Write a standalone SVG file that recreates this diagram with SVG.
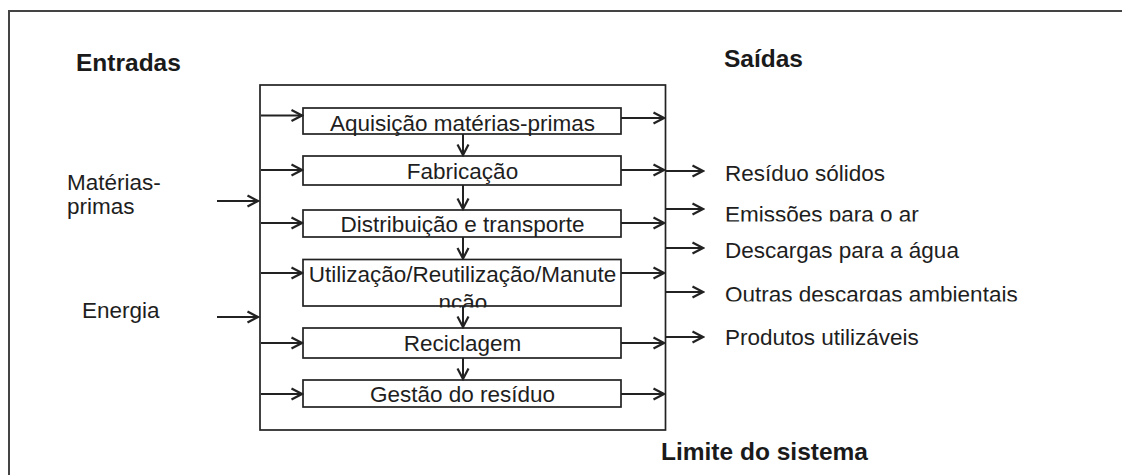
<svg xmlns="http://www.w3.org/2000/svg" width="1122" height="475" viewBox="0 0 1122 475">
<style>
.t{font-family:"Liberation Sans",Arial,sans-serif;font-size:22.5px;fill:#1e1e1e}
.b{font-family:"Liberation Sans",Arial,sans-serif;font-size:24.5px;font-weight:bold;fill:#1a1a1a}
.m{text-anchor:middle}
.box{fill:#fff;stroke:#222;stroke-width:1.7}
.ar{stroke:#222;stroke-width:2;fill:none;marker-end:url(#ah)}
</style>
<defs>
<marker id="ah" markerUnits="userSpaceOnUse" viewBox="0 0 14 14" refX="12.5" refY="7" markerWidth="14" markerHeight="14" orient="auto">
<path d="M2,1.5 L12.5,7 L2,12.5" fill="none" stroke="#222" stroke-width="2.2"/>
</marker>
<clipPath id="c4"><rect x="300" y="250" width="330" height="57.5"/></clipPath>
<clipPath id="cEm"><rect x="700" y="190" width="400" height="31.5"/></clipPath>
<clipPath id="cOu"><rect x="700" y="270" width="400" height="31.5"/></clipPath>
</defs>
<rect width="1122" height="475" fill="#fff"/>
<g id="frame">
<path d="M9,475 V11 H1122" fill="none" stroke="#444" stroke-width="2"/>
</g>
<g id="boundary">
<rect x="260" y="85" width="405.5" height="345" fill="none" stroke="#222" stroke-width="1.7"/>
</g>
<g id="headings">
<text class="b" x="76" y="71">Entradas</text>
<text class="b" x="724" y="67">Saídas</text>
<text class="b" x="661" y="460">Limite do sistema</text>
</g>
<g id="input-materias">
<text class="t" x="67" y="190">Matérias-</text>
<text class="t" x="67" y="214">primas</text>
</g>
<g id="input-energia">
<text class="t" x="82" y="318">Energia</text>
</g>
<g id="n1"><rect class="box" x="303" y="108" width="318" height="26"/><text class="t m" x="462.5" y="130.5">Aquisição matérias-primas</text></g>
<g id="n2"><rect class="box" x="303" y="156" width="318" height="29"/><text class="t m" x="462.5" y="179">Fabricação</text></g>
<g id="n3"><rect class="box" x="303" y="210" width="318" height="27"/><text class="t m" x="462.5" y="232">Distribuição e transporte</text></g>
<g id="n4"><rect class="box" x="303" y="259.5" width="318" height="46.5"/><g clip-path="url(#c4)"><text class="t m" x="462.5" y="282">Utilização/Reutilização/Manute</text><text class="t m" x="463" y="309.5">nção</text></g></g>
<g id="n5"><rect class="box" x="303" y="328" width="318" height="30"/><text class="t m" x="462.5" y="351">Reciclagem</text></g>
<g id="n6"><rect class="box" x="303" y="380" width="318" height="27"/><text class="t m" x="462.5" y="402">Gestão do resíduo</text></g>
<g id="outputs">
<text class="t" x="725" y="181">Resíduo sólidos</text>
<text class="t" x="725" y="222" clip-path="url(#cEm)">Emissões para o ar</text>
<text class="t" x="725" y="258">Descargas para a água</text>
<text class="t" x="725" y="302" clip-path="url(#cOu)">Outras descargas ambientais</text>
<text class="t" x="725" y="345">Produtos utilizáveis</text>
</g>
<g id="connectors">
<path class="ar" d="M217,201 H258"/>
<path class="ar" d="M217,317 H258"/>
<path class="ar" d="M261,115.5 H302"/>
<path class="ar" d="M261,170 H302"/>
<path class="ar" d="M261,223 H302"/>
<path class="ar" d="M261,273 H302"/>
<path class="ar" d="M261,343 H302"/>
<path class="ar" d="M261,394 H302"/>
<path class="ar" d="M621,118 H664"/>
<path class="ar" d="M621,170 H664"/>
<path class="ar" d="M621,223 H664"/>
<path class="ar" d="M621,273 H664"/>
<path class="ar" d="M621,343 H664"/>
<path class="ar" d="M621,394 H664"/>
<path class="ar" d="M463,134 V155"/>
<path class="ar" d="M463,185 V209"/>
<path class="ar" d="M463,237 V258.5"/>
<path class="ar" d="M463,306 V327"/>
<path class="ar" d="M463,358 V379"/>
<path class="ar" d="M666,171 H703"/>
<path class="ar" d="M666,209 H703"/>
<path class="ar" d="M666,248 H703"/>
<path class="ar" d="M666,292 H703"/>
<path class="ar" d="M666,337 H703"/>
</g>
</svg>
